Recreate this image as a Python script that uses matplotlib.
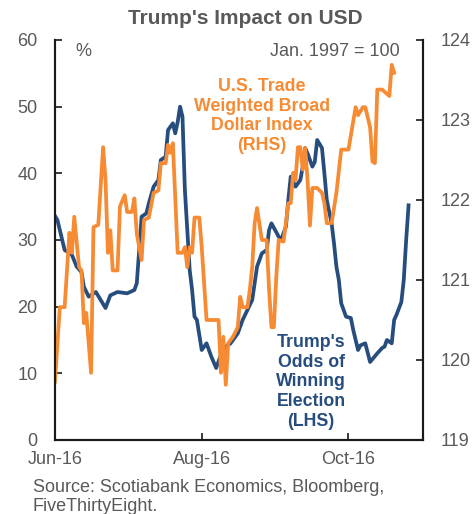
import matplotlib
matplotlib.use("Agg")
import matplotlib.pyplot as plt
import matplotlib.dates as mdates
import pandas as pd

plt.rcParams['font.family'] = ['Liberation Sans', 'DejaVu Sans']

# Trump's odds of winning (FiveThirtyEight), %
odds_dates = ['2016-06-01', '2016-06-02', '2016-06-05', '2016-06-08', '2016-06-10', '2016-06-12',
              '2016-06-13', '2016-06-15', '2016-06-18', '2016-06-20', '2016-06-22', '2016-06-24',
              '2016-06-27', '2016-07-01', '2016-07-04', '2016-07-05', '2016-07-07', '2016-07-09',
              '2016-07-10', '2016-07-12', '2016-07-14', '2016-07-15', '2016-07-17', '2016-07-18',
              '2016-07-20', '2016-07-21', '2016-07-22', '2016-07-23', '2016-07-24', '2016-07-25',
              '2016-07-26', '2016-07-27', '2016-07-28', '2016-07-29', '2016-07-30', '2016-08-01',
              '2016-08-03', '2016-08-05', '2016-08-07', '2016-08-09', '2016-08-11', '2016-08-13',
              '2016-08-16', '2016-08-18', '2016-08-20', '2016-08-22', '2016-08-24', '2016-08-26',
              '2016-08-28', '2016-08-29', '2016-08-30', '2016-09-02', '2016-09-03', '2016-09-05',
              '2016-09-06', '2016-09-07', '2016-09-09', '2016-09-11', '2016-09-12', '2016-09-13',
              '2016-09-14', '2016-09-16', '2016-09-17', '2016-09-18', '2016-09-20', '2016-09-21',
              '2016-09-22', '2016-09-24', '2016-09-25', '2016-09-26', '2016-09-27', '2016-09-28',
              '2016-09-30', '2016-10-02', '2016-10-03', '2016-10-05', '2016-10-06', '2016-10-08',
              '2016-10-10', '2016-10-13', '2016-10-15', '2016-10-16', '2016-10-17', '2016-10-19',
              '2016-10-20', '2016-10-21', '2016-10-23', '2016-10-24', '2016-10-25', '2016-10-26']
odds = [33.6, 33.0, 28.5, 27.8, 26.0, 25.2,
        23.0, 21.5, 22.2, 21.0, 19.8, 21.7,
        22.2, 22.0, 22.5, 23.5, 33.5, 34.0,
        35.5, 38.0, 39.0, 42.0, 42.5, 46.5,
        47.5, 46.0, 47.7, 50.0, 48.5, 37.5,
        31.5, 25.5, 22.5, 18.5, 18.0, 13.5,
        14.5, 12.5, 10.8, 12.8, 14.0, 14.5,
        16.0, 18.0, 19.5, 21.0, 26.0, 28.0,
        28.5, 31.5, 32.5, 30.5, 30.0, 32.0,
        36.0, 39.5, 38.0, 39.0, 41.0, 43.8,
        43.0, 41.0, 41.7, 45.0, 43.8, 40.0,
        36.0, 32.5, 29.5, 26.0, 24.0, 20.5,
        18.5, 18.3, 16.5, 13.5, 14.2, 14.5,
        11.7, 13.0, 13.8, 14.0, 15.0, 14.5,
        18.0, 18.8, 20.7, 24.0, 30.0, 35.2]

# U.S. trade weighted broad dollar index, Jan. 1997 = 100
usd_dates = ['2016-06-01', '2016-06-03', '2016-06-05', '2016-06-07', '2016-06-08', '2016-06-09',
             '2016-06-11', '2016-06-12', '2016-06-13', '2016-06-14', '2016-06-16', '2016-06-17',
             '2016-06-19', '2016-06-21', '2016-06-22', '2016-06-23', '2016-06-24', '2016-06-25',
             '2016-06-27', '2016-06-28', '2016-06-30', '2016-07-01', '2016-07-03', '2016-07-04',
             '2016-07-05', '2016-07-07', '2016-07-08', '2016-07-10', '2016-07-12', '2016-07-14',
             '2016-07-15', '2016-07-17', '2016-07-18', '2016-07-19', '2016-07-20', '2016-07-22',
             '2016-07-24', '2016-07-25', '2016-07-26', '2016-07-27', '2016-07-28', '2016-07-29',
             '2016-07-31', '2016-08-01', '2016-08-03', '2016-08-08', '2016-08-09', '2016-08-10',
             '2016-08-11', '2016-08-12', '2016-08-14', '2016-08-16', '2016-08-17', '2016-08-18',
             '2016-08-20', '2016-08-21', '2016-08-22', '2016-08-23', '2016-08-24', '2016-08-26',
             '2016-08-28', '2016-08-29', '2016-08-30', '2016-08-31', '2016-09-01', '2016-09-02',
             '2016-09-04', '2016-09-05', '2016-09-06', '2016-09-07', '2016-09-08', '2016-09-09',
             '2016-09-10', '2016-09-11', '2016-09-12', '2016-09-13', '2016-09-14', '2016-09-15',
             '2016-09-16', '2016-09-18', '2016-09-20', '2016-09-21', '2016-09-22', '2016-09-24',
             '2016-09-26', '2016-09-28', '2016-10-01', '2016-10-04', '2016-10-05', '2016-10-07',
             '2016-10-08', '2016-10-10', '2016-10-11', '2016-10-12', '2016-10-13', '2016-10-15',
             '2016-10-18', '2016-10-19', '2016-10-20']
usd = [119.73, 120.66, 120.66, 121.59, 121.34, 121.79,
       121.16, 121.12, 120.46, 120.59, 119.84, 121.66,
       121.69, 122.66, 122.25, 121.34, 121.62, 121.12,
       121.12, 121.92, 122.06, 121.85, 121.85, 122.02,
       121.58, 121.25, 121.75, 121.78, 122.09, 122.12,
       122.46, 122.46, 122.69, 122.59, 122.71, 121.34,
       121.34, 121.41, 121.16, 121.41, 121.34, 121.78,
       121.78, 121.41, 120.50, 120.50, 119.84, 120.29,
       119.69, 120.21, 120.29, 120.41, 120.79, 120.66,
       120.66, 120.88, 121.16, 121.71, 121.90, 121.50,
       121.50, 120.88, 120.41, 120.41, 121.04, 121.50,
       121.48, 121.71, 121.96, 121.96, 122.34, 122.25,
       122.66, 122.66, 122.38, 122.65, 122.25, 121.68,
       122.15, 122.15, 122.09, 121.96, 121.71, 121.71,
       122.09, 122.63, 122.63, 123.16, 123.06, 123.16,
       123.16, 122.91, 122.48, 122.46, 123.38, 123.38,
       123.30, 123.69, 123.59]

tick_dates = ['2016-06-01', '2016-08-01', '2016-10-01']
tick_labels = ['Jun-16', 'Aug-16', 'Oct-16']

navy = '#264d7e'
orange = '#f68b33'
grey = '#595959'

fig = plt.figure(figsize=(4.72, 5.14), dpi=100)
ax = fig.add_axes([55 / 472, 1 - 440 / 514, 368 / 472, 400 / 514])
ax2 = ax.twinx()

ax.plot(pd.to_datetime(odds_dates), odds, color=navy, lw=2.7, solid_joinstyle='round')
ax2.plot(pd.to_datetime(usd_dates), usd, color=orange, lw=2.7, solid_joinstyle='round')

ax.set_xlim(pd.Timestamp('2016-06-01'), pd.Timestamp('2016-11-01'))
ax.set_ylim(0, 60)
ax2.set_ylim(119, 124)
ax.set_yticks(range(0, 61, 10))
ax2.set_yticks(range(119, 125))
ax.set_xticks(pd.to_datetime(tick_dates))
ax.set_xticklabels(tick_labels)

for a in (ax, ax2):
    a.spines['top'].set_visible(False)
    for s in ('left', 'right', 'bottom'):
        a.spines[s].set_linewidth(1.5)
        a.spines[s].set_color('#1a1a1a')
    a.tick_params(direction='in', length=5, width=1.2, color='#1a1a1a',
                  labelsize=13, labelcolor=grey)
ax.tick_params(axis='y', pad=12.5)
ax2.tick_params(axis='y', pad=12.5)
ax.tick_params(axis='x', pad=8)

fig.text(245 / 472, 1 - 18 / 514, "Trump's Impact on USD", ha='center', va='center',
         fontsize=15, fontweight='bold', color=grey)
fig.text(83 / 472, 1 - 51 / 514, '%', ha='center', va='center', fontsize=13, color=grey)
fig.text(400 / 472, 1 - 52 / 514, 'Jan. 1997 = 100', ha='right', va='center',
         fontsize=13, color=grey)
fig.text(262 / 472, 1 - 116 / 514, 'U.S. Trade\nWeighted Broad\nDollar Index\n(RHS)',
         ha='center', va='center', fontsize=12.8, fontweight='bold', color=orange,
         linespacing=1.22)
fig.text(311 / 472, 1 - 382 / 514, "Trump's\nOdds of\nWinning\nElection\n(LHS)",
         ha='center', va='center', fontsize=12.8, fontweight='bold', color=navy,
         linespacing=1.22)
fig.text(33 / 472, 1 - 497 / 514, 'Source: Scotiabank Economics, Bloomberg,\nFiveThirtyEight.',
         ha='left', va='center', fontsize=13, color=grey, linespacing=1.1)

fig.savefig('out.png', dpi=100)
